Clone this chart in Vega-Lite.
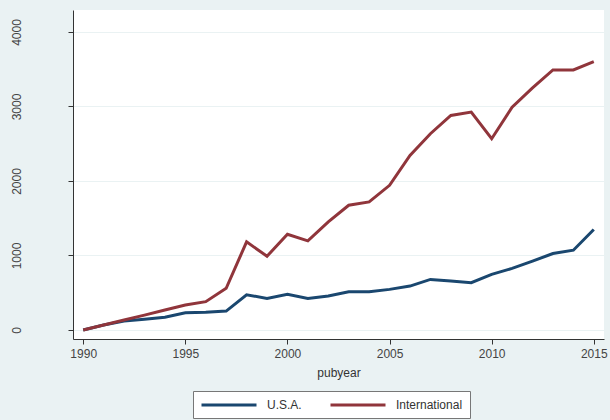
{
  "$schema": "https://vega.github.io/schema/vega-lite/v6.json",
  "autosize": {"type": "none"},
  "padding": {"left": 73, "top": 10, "right": 6, "bottom": 81},
  "width": 531,
  "height": 329,
  "background": "#EAF2F3",
  "config": {
    "view": {"fill": "white", "stroke": null},
    "font": "Liberation Sans"
  },
  "data": {
    "values": [
      {"pubyear": 1990, "series": "U.S.A.", "value": 0},
      {"pubyear": 1991, "series": "U.S.A.", "value": 67},
      {"pubyear": 1992, "series": "U.S.A.", "value": 120},
      {"pubyear": 1993, "series": "U.S.A.", "value": 143},
      {"pubyear": 1994, "series": "U.S.A.", "value": 170},
      {"pubyear": 1995, "series": "U.S.A.", "value": 232},
      {"pubyear": 1996, "series": "U.S.A.", "value": 237},
      {"pubyear": 1997, "series": "U.S.A.", "value": 254},
      {"pubyear": 1998, "series": "U.S.A.", "value": 473},
      {"pubyear": 1999, "series": "U.S.A.", "value": 424},
      {"pubyear": 2000, "series": "U.S.A.", "value": 478},
      {"pubyear": 2001, "series": "U.S.A.", "value": 424},
      {"pubyear": 2002, "series": "U.S.A.", "value": 455},
      {"pubyear": 2003, "series": "U.S.A.", "value": 513},
      {"pubyear": 2004, "series": "U.S.A.", "value": 513},
      {"pubyear": 2005, "series": "U.S.A.", "value": 545},
      {"pubyear": 2006, "series": "U.S.A.", "value": 589},
      {"pubyear": 2007, "series": "U.S.A.", "value": 679},
      {"pubyear": 2008, "series": "U.S.A.", "value": 656},
      {"pubyear": 2009, "series": "U.S.A.", "value": 634},
      {"pubyear": 2010, "series": "U.S.A.", "value": 746},
      {"pubyear": 2011, "series": "U.S.A.", "value": 826},
      {"pubyear": 2012, "series": "U.S.A.", "value": 924},
      {"pubyear": 2013, "series": "U.S.A.", "value": 1027},
      {"pubyear": 2014, "series": "U.S.A.", "value": 1071},
      {"pubyear": 2015, "series": "U.S.A.", "value": 1348},
      {"pubyear": 1990, "series": "International", "value": 0},
      {"pubyear": 1991, "series": "International", "value": 67},
      {"pubyear": 1992, "series": "International", "value": 134},
      {"pubyear": 1993, "series": "International", "value": 200},
      {"pubyear": 1994, "series": "International", "value": 268},
      {"pubyear": 1995, "series": "International", "value": 335},
      {"pubyear": 1996, "series": "International", "value": 380},
      {"pubyear": 1997, "series": "International", "value": 560},
      {"pubyear": 1998, "series": "International", "value": 1183},
      {"pubyear": 1999, "series": "International", "value": 990},
      {"pubyear": 2000, "series": "International", "value": 1285},
      {"pubyear": 2001, "series": "International", "value": 1196},
      {"pubyear": 2002, "series": "International", "value": 1450},
      {"pubyear": 2003, "series": "International", "value": 1674},
      {"pubyear": 2004, "series": "International", "value": 1719},
      {"pubyear": 2005, "series": "International", "value": 1942},
      {"pubyear": 2006, "series": "International", "value": 2344},
      {"pubyear": 2007, "series": "International", "value": 2634},
      {"pubyear": 2008, "series": "International", "value": 2880},
      {"pubyear": 2009, "series": "International", "value": 2924},
      {"pubyear": 2010, "series": "International", "value": 2567},
      {"pubyear": 2011, "series": "International", "value": 2991},
      {"pubyear": 2012, "series": "International", "value": 3250},
      {"pubyear": 2013, "series": "International", "value": 3491},
      {"pubyear": 2014, "series": "International", "value": 3491},
      {"pubyear": 2015, "series": "International", "value": 3603}
    ]
  },
  "mark": {"type": "line", "strokeWidth": 3},
  "encoding": {
    "x": {
      "field": "pubyear",
      "type": "quantitative",
      "scale": {"domain": [1989.5, 2015.5], "nice": false, "zero": false},
      "axis": {
        "values": [1990, 1995, 2000, 2005, 2010, 2015],
        "format": "d",
        "title": "pubyear",
        "titleFontSize": 12,
        "titleFontWeight": "normal",
        "titleColor": "#333333",
        "titlePadding": 8,
        "labelFontSize": 12,
        "labelColor": "#444444",
        "labelPadding": 4,
        "tickSize": 5,
        "tickColor": "#333333",
        "domainColor": "#333333",
        "grid": false
      }
    },
    "y": {
      "field": "value",
      "type": "quantitative",
      "scale": {"domain": [-121, 4295], "nice": false, "zero": false},
      "axis": {
        "values": [0, 1000, 2000, 3000, 4000],
        "format": "d",
        "title": null,
        "labelAngle": -90,
        "labelFontSize": 12,
        "labelColor": "#444444",
        "labelPadding": 45,
        "tickSize": 5,
        "tickColor": "#333333",
        "domainColor": "#333333",
        "grid": true,
        "gridColor": "#EAF2F3",
        "gridWidth": 1
      }
    },
    "color": {
      "field": "series",
      "type": "nominal",
      "scale": {"domain": ["U.S.A.", "International"], "range": ["#1a476f", "#90353b"]},
      "legend": {
        "title": null,
        "orient": "none",
        "direction": "horizontal",
        "legendX": 120,
        "legendY": 381,
        "symbolType": "M-5,0H5",
        "symbolSize": 121,
        "symbolStrokeWidth": 3,
        "symbolOffset": 22,
        "labelOffset": 31,
        "labelFontSize": 12,
        "labelColor": "#333333",
        "fillColor": "white",
        "strokeColor": "#777777",
        "padding": 7,
        "columnPadding": 22
      }
    }
  }
}
